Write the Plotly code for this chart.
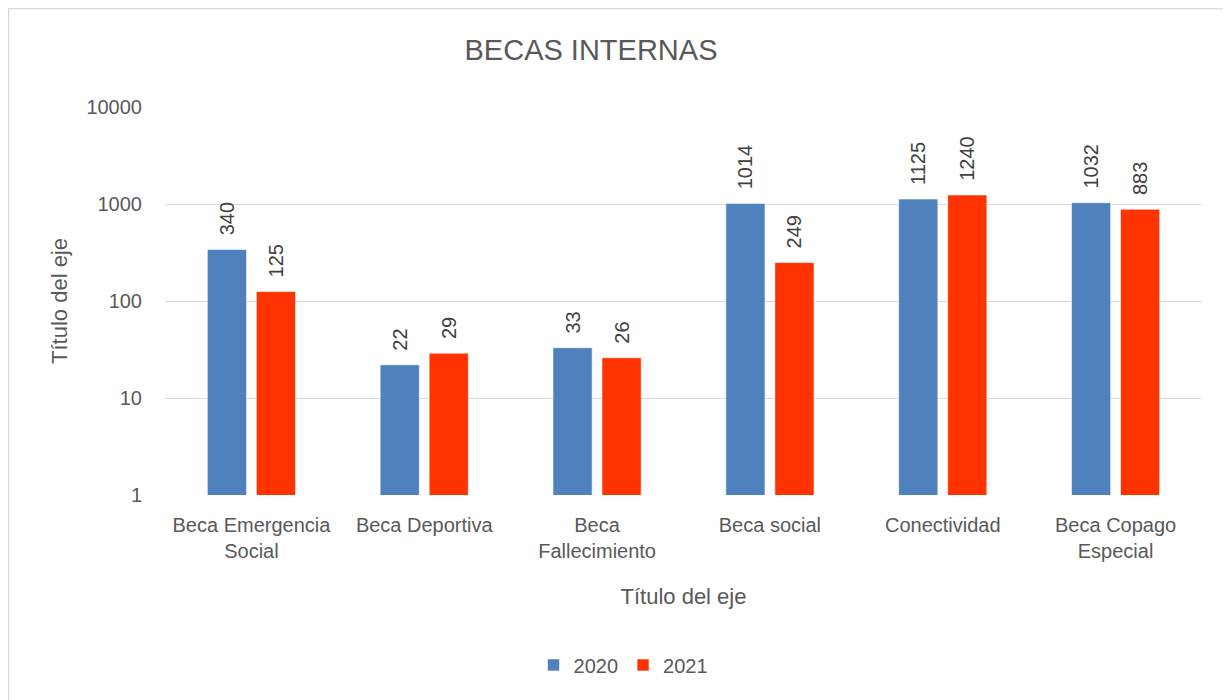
import plotly.graph_objects as go

categorias = ["Beca Emergencia<br>Social", "Beca Deportiva", "Beca<br>Fallecimiento",
              "Beca social", "Conectividad", "Beca Copago<br>Especial"]
valores_2020 = [340, 22, 33, 1014, 1125, 1032]
valores_2021 = [125, 29, 26, 249, 1240, 883]
ticks_y = [1, 10, 100, 1000, 10000]

AZUL = "#4F81BD"
ROJO = "#FF3300"
GRIS = "#595959"
FUENTE = "Liberation Sans, Arial, sans-serif"

fig = go.Figure()
for nombre, valores, color in [("2020", valores_2020, AZUL), ("2021", valores_2021, ROJO)]:
    fig.add_trace(go.Bar(
        x=categorias, y=valores, name=nombre,
        marker=dict(color=color, line=dict(color="rgba(255,255,255,0.6)", width=1)),
        texttemplate="\u00a0\u00a0%{y}", textposition="outside", textangle=-90,
        textfont=dict(size=20, color="#404040", family=FUENTE),
        cliponaxis=False
    ))

fig.update_layout(
    width=1231, height=700,
    margin=dict(l=157, r=37, t=99, b=213),
    paper_bgcolor="white", plot_bgcolor="white",
    font=dict(family=FUENTE, color=GRIS, size=20),
    title=dict(text="BECAS INTERNAS", x=0.4736, xanchor="center", y=0.94, yanchor="middle",
               font=dict(size=29, color=GRIS, family=FUENTE)),
    barmode="group", bargap=0.433, bargroupgap=0.2,
    uniformtext=dict(minsize=20, mode="show"),
    xaxis=dict(
        title=dict(text="Título del eje", font=dict(size=22, color=GRIS), standoff=27),
        showline=False, ticks="", ticklabelstandoff=16,
        tickfont=dict(size=20, color=GRIS),
    ),
    yaxis=dict(
        type="log", range=[0, 4], tickvals=ticks_y, ticktext=[str(v) for v in ticks_y],
        showgrid=True, gridcolor="#D9D9D9", gridwidth=1.3, zeroline=False,
        showline=False, ticks="", ticklabelstandoff=22,
        tickfont=dict(size=20, color=GRIS),
        title=dict(text="Título del eje", font=dict(size=22, color=GRIS), standoff=12),
    ),
    legend=dict(orientation="h", x=0.4417, xanchor="center", y=-0.438, yanchor="middle",
                font=dict(size=20, color=GRIS), traceorder="normal"),
    shapes=[dict(type="rect", xref="paper", yref="paper",
                 x0=-0.1509, x1=1.0260, y0=-0.6, y1=1.2539,
                 line=dict(color="#D9D9D9", width=1.5), fillcolor="rgba(0,0,0,0)", layer="below")],
)

fig.write_html("out.html")
